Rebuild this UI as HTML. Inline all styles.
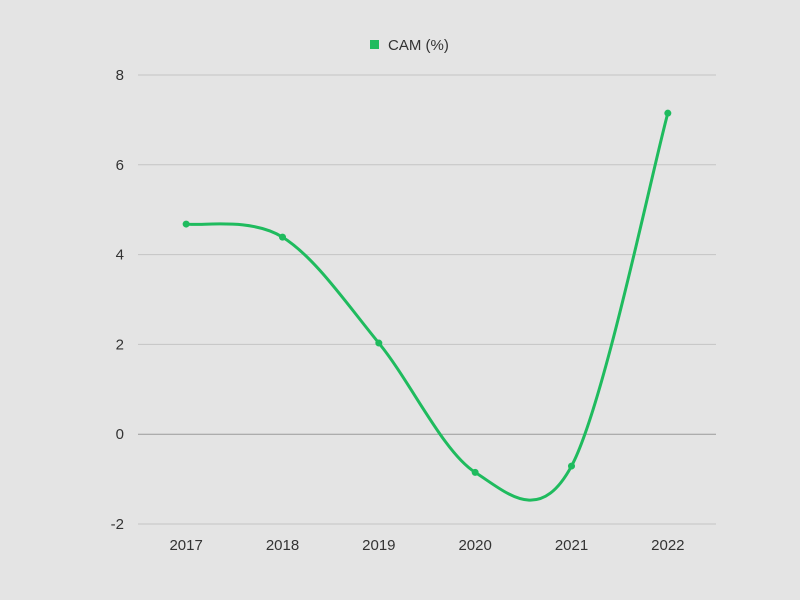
<!DOCTYPE html>
<html><head><meta charset="utf-8"><style>
html,body{margin:0;padding:0;background:#e4e4e4;}
svg{display:block;font-family:"Liberation Sans",sans-serif;}
</style></head><body>
<svg width="800" height="600">
<rect width="800" height="600" fill="#e4e4e4"/>
<g id="grid"></g><g id="yticks"></g><g id="xticks"></g><g id="series"></g>
<g>
<rect x="370" y="40" width="9" height="9" fill="#1fbb5e"/>
<text x="388" y="50" font-size="15" fill="#333">CAM (%)</text>
</g>
</svg>
<script>
const categories=["2017","2018","2019","2020","2021","2022"];
const camValues=[4.68,4.39,2.03,-0.85,-0.71,7.15];
const yTickValues=[-2,0,2,4,6,8];
const NS="http://www.w3.org/2000/svg";
const plotLeft=138,plotRight=716,yMin=-2,yMax=8,plotTop=75,plotBottom=524;
const band=(plotRight-plotLeft)/categories.length;
const xs=i=>plotLeft+band*(i+0.5);
const ys=v=>plotBottom-(v-yMin)/(yMax-yMin)*(plotBottom-plotTop);
function mk(t,a,p){const e=document.createElementNS(NS,t);for(const k in a)e.setAttribute(k,a[k]);p.appendChild(e);return e;}
const grid=document.getElementById('grid'),yt=document.getElementById('yticks'),xt=document.getElementById('xticks'),se=document.getElementById('series');
yTickValues.forEach(v=>{
 const l=mk('line',{x1:plotLeft,x2:plotRight,y1:ys(v),y2:ys(v),stroke:v===0?'#999':'#c4c4c4','stroke-width':1},grid);
 
 
 const t=mk('text',{x:124,y:ys(v)+5,'text-anchor':'end','font-size':15,fill:'#333'},yt);
 t.textContent=v;
 
 
});
categories.forEach((c,i)=>{
 const t=mk('text',{x:xs(i),y:550,'text-anchor':'middle','font-size':15,fill:'#333'},xt);
 t.textContent=c;
 
 
});
const pts=camValues.map((v,i)=>[xs(i),ys(v)]);
let d='M'+pts[0][0]+','+pts[0][1];
for(let i=0;i<pts.length-1;i++){
 const p0=pts[Math.max(0,i-1)],p1=pts[i],p2=pts[i+1],p3=pts[Math.min(pts.length-1,i+2)];
 const c1=[p1[0]+(p2[0]-p0[0])/6,p1[1]+(p2[1]-p0[1])/6];
 const c2=[p2[0]-(p3[0]-p1[0])/6,p2[1]-(p3[1]-p1[1])/6];
 d+=` C${c1[0]},${c1[1]} ${c2[0]},${c2[1]} ${p2[0]},${p2[1]}`;
}
const path=mk('path',{d:d,fill:'none',stroke:'#1fbb5e','stroke-width':3},se);


pts.forEach(p=>{
 const c=mk('circle',{cx:p[0],cy:p[1],r:3.5,fill:'#1fbb5e'},se);
 
 
});
</script>
</body></html>
